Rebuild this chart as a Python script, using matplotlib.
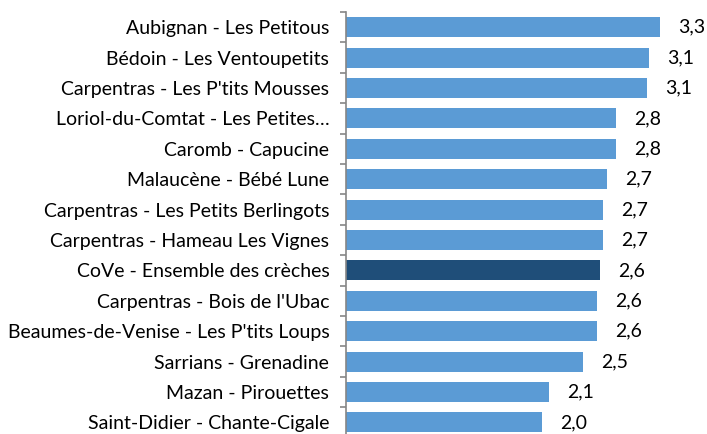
import numpy as np
import matplotlib.pyplot as plt

# crèches et valeurs
creches = ["Aubignan - Les Petitous", "Bédoin - Les Ventoupetits",
           "Carpentras - Les P'tits Mousses", "Loriol-du-Comtat - Les Petites…",
           "Caromb - Capucine", "Malaucène - Bébé Lune",
           "Carpentras - Les Petits Berlingots", "Carpentras - Hameau Les Vignes",
           "CoVe - Ensemble des crèches", "Carpentras - Bois de l'Ubac",
           "Beaumes-de-Venise - Les P'tits Loups", "Sarrians - Grenadine",
           "Mazan - Pirouettes", "Saint-Didier - Chante-Cigale"]
valeurs = [3.26, 3.15, 3.13, 2.81, 2.81, 2.71, 2.67, 2.67, 2.64, 2.61, 2.61, 2.46, 2.11, 2.04]
surligne = "CoVe - Ensemble des crèches"

plt.rcParams['font.family'] = ['Lato', 'DejaVu Sans']

fig = plt.figure(figsize=(7.07, 4.34), dpi=100)
W, H = 707, 434
x0, x1 = 346, 690
ytop, pas = 12, 30.4
ybas = ytop + pas*len(creches)
ax = fig.add_axes([x0/W, 1-ybas/H, (x1-x0)/W, (ybas-ytop)/H])

y = np.arange(len(creches))
couleurs = ["#1F4E79" if c == surligne else "#5B9BD5" for c in creches]
ax.barh(y, valeurs, height=0.66, color=couleurs)
ax.set_ylim(len(creches)-0.5, -0.5)
ax.set_xlim(0, (x1-x0)/96.2)

for yi, v in zip(y, valeurs):
    ax.annotate(f"{v:.1f}".replace(".", ","), (v, yi), xytext=(13, 0),
                textcoords="offset points", va="center", ha="left",
                fontsize=14, color="black")

ax.set_yticks(y)
ax.set_yticklabels(creches, fontsize=14)
ax.set_yticks(np.arange(len(creches)+1)-0.5, minor=True)
ax.tick_params(axis="y", which="major", length=0, pad=12)
ax.tick_params(axis="y", which="minor", length=4.5, width=1.2, color="#868686")
ax.set_xticks([])
for s in ["top", "right", "bottom"]:
    ax.spines[s].set_visible(False)
ax.spines["left"].set_color("#868686")
ax.spines["left"].set_linewidth(1.2)

plt.savefig("out.png", dpi=100)
